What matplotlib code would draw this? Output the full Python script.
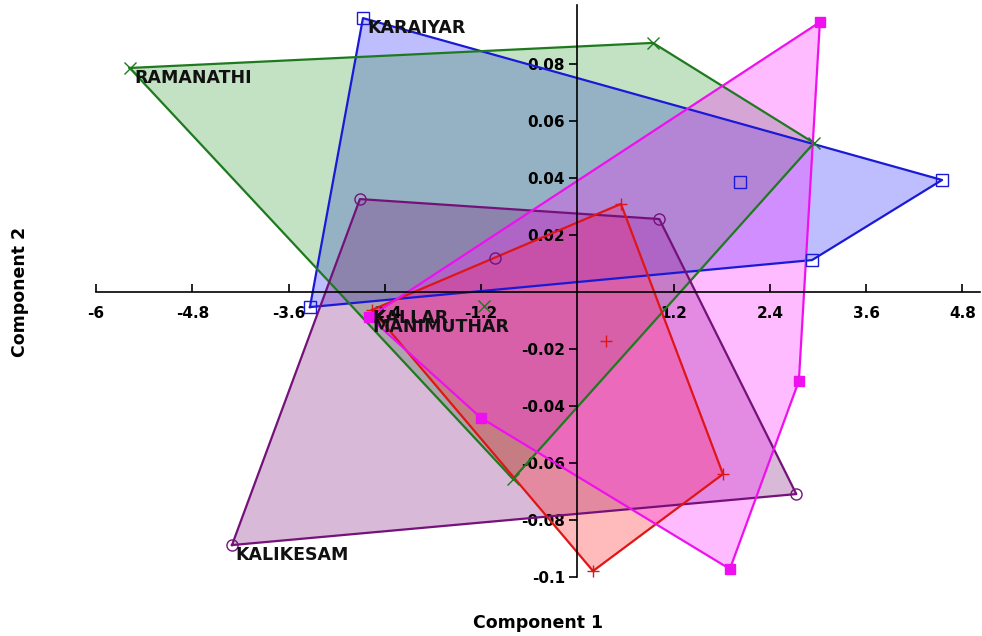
import numpy as np
import matplotlib.pyplot as plt

# PCA scores per river (component 1, component 2)
groups = ["KARAIYAR", "RAMANATHI", "KALIKESAM", "KALLAR", "MANIMUTHAR"]
karaiyar_x = [-2.672, 4.547, 2.926, -3.333, 2.029]
karaiyar_y = [0.0961, 0.0393, 0.0112, -0.0053, 0.0386]
ramanathi_x = [-5.58, 0.944, 2.95, -0.802, -1.163]
ramanathi_y = [0.0786, 0.0874, 0.0523, -0.0656, -0.0049]
kalikesam_x = [-4.305, -2.71, 1.022, 2.73, -1.026]
kalikesam_y = [-0.0888, 0.0326, 0.0256, -0.0709, 0.0119]
kallar_x = [-2.56, 0.544, 1.816, 0.196, 0.358]
kallar_y = [-0.0063, 0.0309, -0.0639, -0.0979, -0.0172]
manimuthar_x = [-2.593, 3.024, 2.762, 1.902, -1.2]
manimuthar_y = [-0.0088, 0.0947, -0.0312, -0.0972, -0.0442]

xticks = [-6, -4.8, -3.6, -2.4, -1.2, 1.2, 2.4, 3.6, 4.8]
yticks = [0.08, 0.06, 0.04, 0.02, -0.02, -0.04, -0.06, -0.08, -0.1]
ytick_labels = ["0.08", "0.06", "0.04", "0.02", "-0.02", "-0.04", "-0.06", "-0.08", "-0.1"]


def convex_hull(xs, ys):
    """
    monotone chain hull, returns vertices in order
    """
    pts = sorted(zip(xs, ys))
    def cross(o, a, b):
        return (a[0]-o[0])*(b[1]-o[1]) - (a[1]-o[1])*(b[0]-o[0])
    lower, upper = [], []
    for p in pts:
        while len(lower) >= 2 and cross(lower[-2], lower[-1], p) <= 0:
            lower.pop()
        lower.append(p)
    for p in reversed(pts):
        while len(upper) >= 2 and cross(upper[-2], upper[-1], p) <= 0:
            upper.pop()
        upper.append(p)
    return np.array(lower[:-1] + upper[:-1])


data = [
    (karaiyar_x, karaiyar_y, "#1a1ad6", "#2a2aff", 0.3, "s", "none"),
    (ramanathi_x, ramanathi_y, "#1f7a1f", "#2a942a", 0.28, "x", None),
    (kalikesam_x, kalikesam_y, "#74127a", "#7e1a80", 0.3, "o", "none"),
    (kallar_x, kallar_y, "#e01515", "#ff2020", 0.3, "+", None),
    (manimuthar_x, manimuthar_y, "#ee10ee", "#ff20ff", 0.3, "s", "fill"),
]

fig = plt.figure(figsize=(9.82, 6.36), dpi=100)
ax = fig.add_axes([96/982, 1 - 600/636, 884/982, 596/636])
ax.set_xlim(-6, 5.02)
ax.set_ylim(-0.10807, 0.10105)

for xs, ys, lc, fc, a, m, mf in data:
    hull = convex_hull(xs, ys)
    ax.fill(hull[:, 0], hull[:, 1], color=fc, alpha=a, lw=0, zorder=1)
for xs, ys, lc, fc, a, m, mf in data:
    hull = convex_hull(xs, ys)
    closed = np.vstack([hull, hull[:1]])
    ax.plot(closed[:, 0], closed[:, 1], color=lc, lw=1.6, zorder=2)
    if mf == "none":
        ax.plot(xs, ys, ls="none", marker=m, ms=8, mfc="none", mec=lc, mew=1.0, zorder=3)
    elif mf == "fill":
        ax.plot(xs, ys, ls="none", marker=m, ms=7.5, mfc=lc, mec=lc, zorder=3)
    else:
        ax.plot(xs, ys, ls="none", marker=m, ms=9, color=lc, mew=1.0, zorder=3)

label_pos = {
    "KARAIYAR": (-2.62, 0.0926),
    "RAMANATHI": (-5.52, 0.0751),
    "KALIKESAM": (-4.26, -0.0923),
    "KALLAR": (-2.55, -0.0091),
    "MANIMUTHAR": (-2.55, -0.0123),
}
for g in groups:
    x, y = label_pos[g]
    ax.text(x, y, g, fontsize=12.5, fontweight="bold", color="#111111",
            ha="left", va="center", zorder=5)

# axes crossing at the origin
for s in ["top", "right"]:
    ax.spines[s].set_visible(False)
ax.spines["left"].set_position(("data", 0))
ax.spines["bottom"].set_position(("data", 0))
ax.spines["left"].set_bounds(-0.1, 0.1007)
ax.spines["bottom"].set_bounds(-6, 5.02)
ax.spines["left"].set_linewidth(1.2)
ax.spines["bottom"].set_linewidth(1.2)
ax.spines["left"].set_zorder(4)
ax.spines["bottom"].set_zorder(4)

ax.set_xticks(xticks)
ax.set_xticklabels([f"{t:g}" for t in xticks])
ax.set_yticks(yticks)
ax.set_yticklabels(ytick_labels)
ax.tick_params(axis="x", direction="in", length=6, width=1.2, pad=10, labelsize=11)
ax.tick_params(axis="y", direction="out", length=6, width=1.2, pad=3, labelsize=11)
for lbl in ax.get_xticklabels() + ax.get_yticklabels():
    lbl.set_fontweight("bold")
    lbl.set_zorder(5)

fig.text(538/982, 1 - 623/636, "Component 1", fontsize=12.5, fontweight="bold",
         ha="center", va="center")
fig.text(20/982, 1 - 292/636, "Component 2", fontsize=12.5, fontweight="bold",
         ha="center", va="center", rotation=90)

fig.savefig("out.png", dpi=100)
